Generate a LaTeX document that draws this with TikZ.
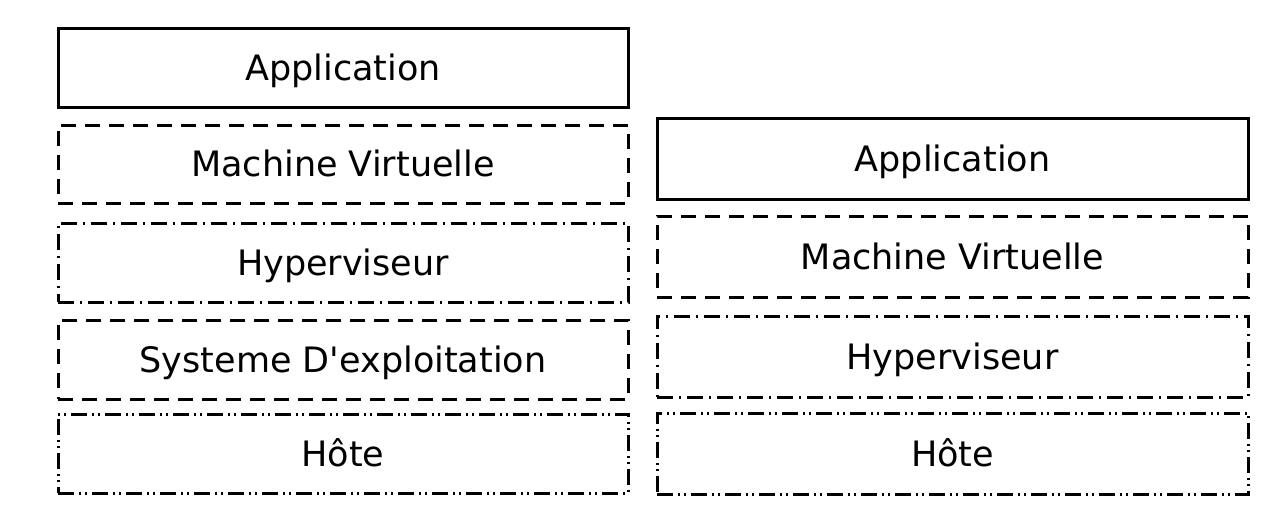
\documentclass[tikz,border=0pt]{standalone}
\usepackage{fontspec}
\newfontfamily\djv{DejaVu Sans}
\begin{document}
\begin{tikzpicture}[x=0.5pt,y=-0.5pt,
  layer/.style={draw=black, line width=1.5pt, fill=white, inner sep=0pt,
    text height=12.5pt, text depth=0pt,
    font=\djv\fontsize{17.5}{20}\selectfont},
  solidbox/.style={layer},
  dashbox/.style={layer, dash pattern=on 7.5pt off 4.5pt},
  dashdotbox/.style={layer, dash pattern=on 8pt off 3pt on 1pt off 3pt},
  dashdotdotbox/.style={layer, dash pattern=on 8pt off 2.5pt on 1pt off 2pt on 1pt off 2.5pt}]
\useasboundingbox (0,0) rectangle (1280,520);
% left stack
\node[solidbox, minimum width=285pt, minimum height=39.5pt] (lapp) at (343,67.5) {Application};
\node[dashbox, minimum width=285pt, minimum height=39pt] (lvm) at (343,164) {Machine Virtuelle};
\node[dashdotbox, minimum width=285pt, minimum height=39.5pt] (lhyp) at (343,262.5) {Hyperviseur};
\node[dashbox, minimum width=285pt, minimum height=39.5pt] (los) at (343,359.5) {Systeme D'exploitation};
\node[dashdotdotbox, minimum width=285pt, minimum height=39.5pt] (lhost) at (343,453.5) {Hôte};
% right stack
\node[solidbox, minimum width=295.5pt, minimum height=40.5pt] (rapp) at (952.5,158.5) {Application};
\node[dashbox, minimum width=295.5pt, minimum height=40.5pt] (rvm) at (952.5,256.5) {Machine Virtuelle};
\node[dashdotbox, minimum width=295.5pt, minimum height=40.5pt] (rhyp) at (952.5,356.5) {Hyperviseur};
\node[dashdotdotbox, minimum width=295.5pt, minimum height=40.5pt] (rhost) at (952.5,453.5) {Hôte};
\end{tikzpicture}
\end{document}
